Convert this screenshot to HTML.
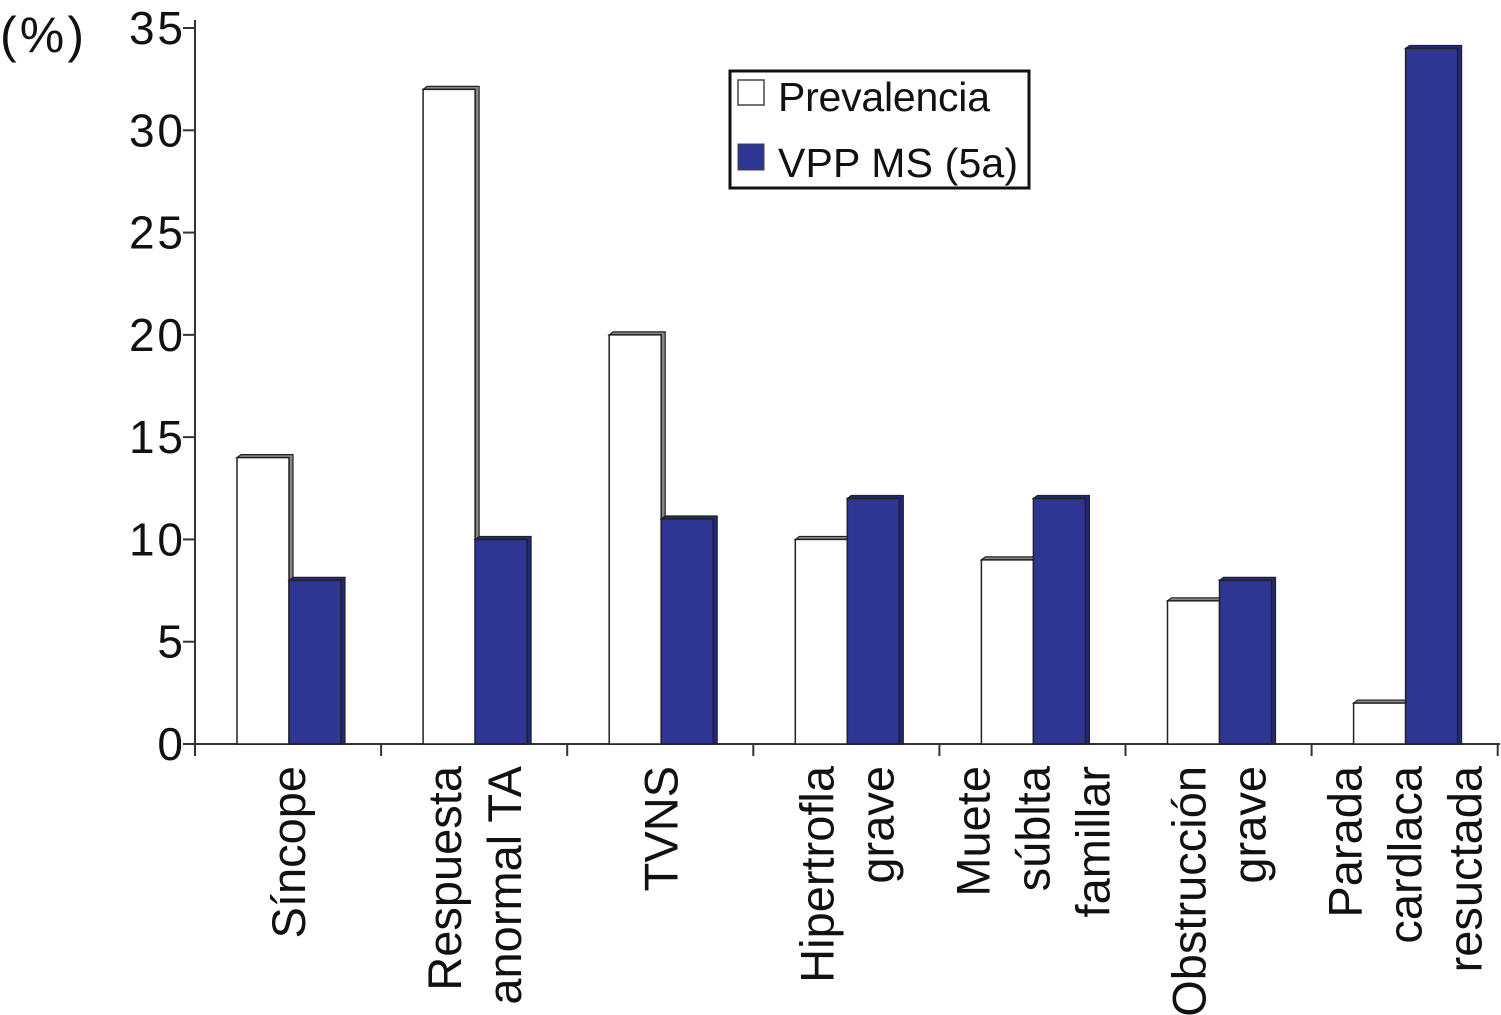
<!DOCTYPE html>
<html><head><meta charset="utf-8"><style>
body{margin:0;background:#fff}
svg{display:block;font-family:"Liberation Sans",Arial,sans-serif}
</style></head><body>
<svg id="c" width="1501" height="1015"></svg>
<script>
const categories=[["Síncope"],["Respuesta","anormal TA"],["TVNS"],["Hipertrofla","grave"],["Muete","súblta","famillar"],["Obstrucción","grave"],["Parada","cardlaca","resuctada"]];
const prevalencia=[14,32,20,10,9,7,2];
const vpp=[8,10,11,12,12,8,34];
const yTicks=[0,5,10,15,20,25,30,35];
const NS="http://www.w3.org/2000/svg";
const svg=document.getElementById('c');
const x0=195,y0=744,pu=20.457,cw=186.1;
const y=v=>y0-v*pu;
function mk(t,a,p){const e=document.createElementNS(NS,t);for(const k in a)e.setAttribute(k,a[k]);(p||svg).appendChild(e);return e;}
let ya=mk('line',{x1:x0,y1:20,x2:x0,y2:y0+1,stroke:'#333','stroke-width':2});

let xa=mk('line',{x1:x0-12,y1:y0,x2:1500,y2:y0,stroke:'#333','stroke-width':2});

yTicks.forEach(v=>{
 mk('line',{x1:x0-12,y1:y(v),x2:x0,y2:y(v),stroke:'#333','stroke-width':2});
 const t=mk('text',{x:x0-12,y:y(v)+16,'text-anchor':'end','font-size':46,fill:'#111',textLength:v<10?25:54});
 t.textContent=v;
 
 
});
const ut=mk('text',{x:0,y:52,'font-size':50,fill:'#111',textLength:84});ut.textContent='(%)';


for(let i=0;i<=categories.length;i++){mk('line',{x1:x0+i*cw,y1:y0,x2:x0+i*cw,y2:y0+12,stroke:'#333','stroke-width':2});}
function bar(xl,v,fill,name){
 const g=mk('g',{});
 
 
 const w=52,d=4,top=y(v);
 mk('polygon',{points:`${xl},${top} ${xl+d},${top-3} ${xl+w+d},${top-3} ${xl+w+d},${y0} ${xl+w},${y0} ${xl+w},${top}`,fill:fill=='#fff'?'#888':'#1f2a7a',stroke:'#222','stroke-width':1.2},g);
 mk('rect',{x:xl,y:top,width:w,height:y0-top,fill:fill,stroke:'#222','stroke-width':1.5},g);
}
categories.forEach((lines,i)=>{
 const cs=x0+i*cw;
 bar(cs+42,prevalencia[i],'#fff','bar-prevalencia');
 bar(cs+94,vpp[i],'#2e3592','bar-vpp');
 const cx=cs+cw/2, n=lines.length;
 lines.forEach((l,j)=>{
  const lx=cx+(j-(n-1)/2)*60+17;
  const t=mk('text',{x:0,y:0,transform:`translate(${lx},766) rotate(-90)`,'text-anchor':'end','font-size':47,fill:'#111'});
  t.textContent=l;
  
  
 });
});
const lg=mk('g',{});


mk('rect',{x:730,y:71,width:299,height:117,fill:'#fff',stroke:'#111','stroke-width':3},lg);
mk('rect',{x:738,y:80,width:26,height:25,fill:'#fff',stroke:'#444','stroke-width':1.5},lg);
mk('rect',{x:738,y:144,width:26,height:26,fill:'#2e3592',stroke:'#444','stroke-width':1},lg);
let t1=mk('text',{x:778,y:111,'font-size':41,fill:'#111',textLength:212},lg);t1.textContent='Prevalencia';


let t2=mk('text',{x:778,y:177,'font-size':41,fill:'#111',textLength:240},lg);t2.textContent='VPP MS (5a)';


</script>
</body></html>
